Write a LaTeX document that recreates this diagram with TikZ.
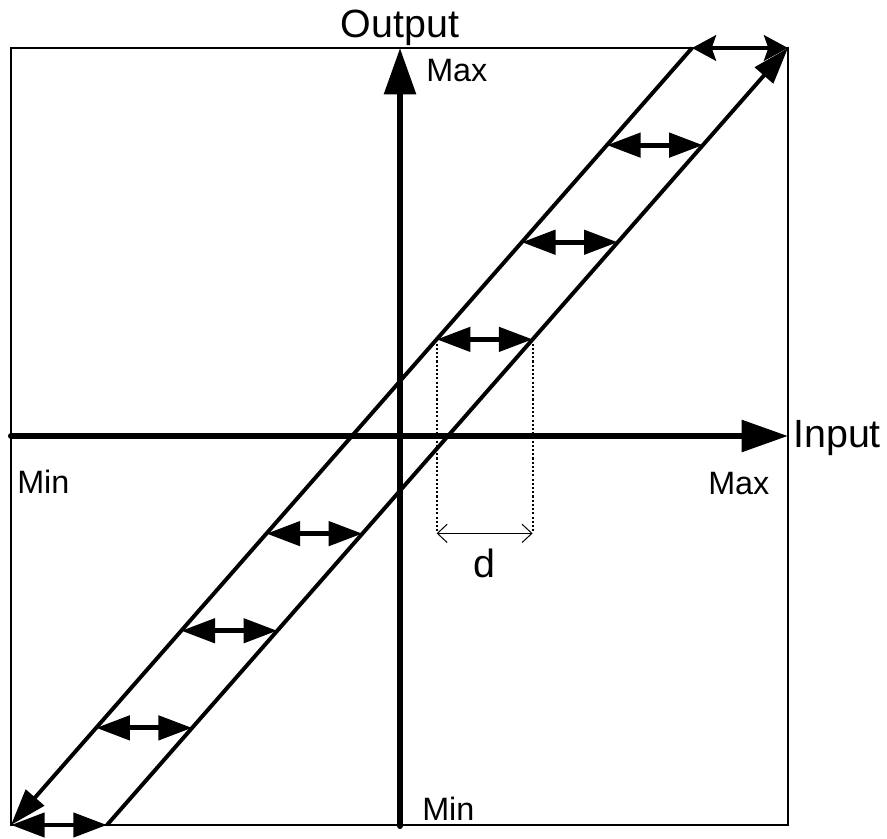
\documentclass[tikz,border=0pt]{standalone}
\usepackage{fontspec}
\setmainfont{Liberation Sans}
\usetikzlibrary{calc,arrows.meta}
\tikzset{
  frame/.style     = {draw=black, line width=1.5pt},
  axis/.style      = {draw=black, line width=4.3pt, line cap=round, -{Triangle[length=33pt,width=22pt]}},
  branch/.style    = {draw=black, line width=2.8pt},
  branchend/.style = {branch, -{Triangle[length=26pt,width=17pt]}},
  gap/.style       = {draw=black, line width=3.5pt, {Triangle[length=24pt,width=17pt]}-{Triangle[length=24pt,width=17pt]}},
  gaptop/.style    = {draw=black, line width=3.3pt, {Stealth[length=17pt,width=18pt,inset=3pt]}-{Stealth[length=17pt,width=18pt,inset=3pt]}},
  guide/.style     = {draw=black, line width=1.5pt, dash pattern=on 1.5pt off 1.5pt},
  dimline/.style   = {draw=black, line width=0.7pt, {Straight Barb[length=7pt,width=13pt]}-{Straight Barb[length=7pt,width=13pt]}},
  lblbig/.style    = {font=\fontsize{28}{31}\selectfont, inner sep=0pt, anchor=base},
  lblsm/.style     = {font=\fontsize{23}{26}\selectfont, inner sep=0pt, anchor=base west},
}

\begin{document}
\begin{tikzpicture}[x=0.025cm,y=-0.025cm]
  \useasboundingbox (0,0) rectangle (887,839);

  % ---------- frame ----------
  \coordinate (tl) at (11,48);
  \coordinate (br) at (788,825);
  \coordinate (tr) at (788,48);
  \coordinate (bl) at (11,825);
  \draw[frame] (tl) rectangle (br);

  % ---------- axes ----------
  \coordinate (xin) at (11,436);
  \coordinate (xout) at (788,436);
  \coordinate (yin) at (400,826);
  \coordinate (yout) at (400,48);
  \draw[axis] (xin) -- (xout);
  \draw[axis] (yin) -- (yout);

  % ---------- hysteresis band ----------
  \coordinate (ul) at (692,48);
  \coordinate (lr) at (107,825);
  \draw[branchend] (ul) -- (bl);
  \draw[branchend] (lr) -- (tr);
  \draw[gaptop] (ul) -- (tr);
  \draw[gap] (bl) -- (lr);
  \foreach \t [count=\i] in {0.125,0.25,0.375,0.625,0.75,0.875} {
    \coordinate (l\i) at ($(ul)!\t!(bl)$);
    \coordinate (r\i) at ($(tr)!\t!(lr)$);
    \draw[gap] (l\i) -- (r\i);
  }

  % ---------- width d ----------
  \coordinate (dl) at ($(l3)+(0,194)$);
  \coordinate (dr) at (r3 |- dl);
  \draw[guide] (l3) -- (dl);
  \draw[guide] (r3) -- (dr);
  \draw[dimline] (dl) -- (dr);
  \node[lblbig] (dlbl) at ($(dl)!0.5!(dr)+(0,44)$) {d};

  % ---------- labels ----------
  \node[lblbig] (outlbl) at (400,38) {Output};
  \node[lblbig, anchor=base west] (inlbl) at (793,447) {Input};
  \node[lblsm] (ymax) at (426,82) {Max};
  \node[lblsm] (ymin) at (422,820) {Min};
  \node[lblsm] (xmax) at (708,494) {Max};
  \node[lblsm] (xmin) at (17,493) {Min};
\end{tikzpicture}
\end{document}
